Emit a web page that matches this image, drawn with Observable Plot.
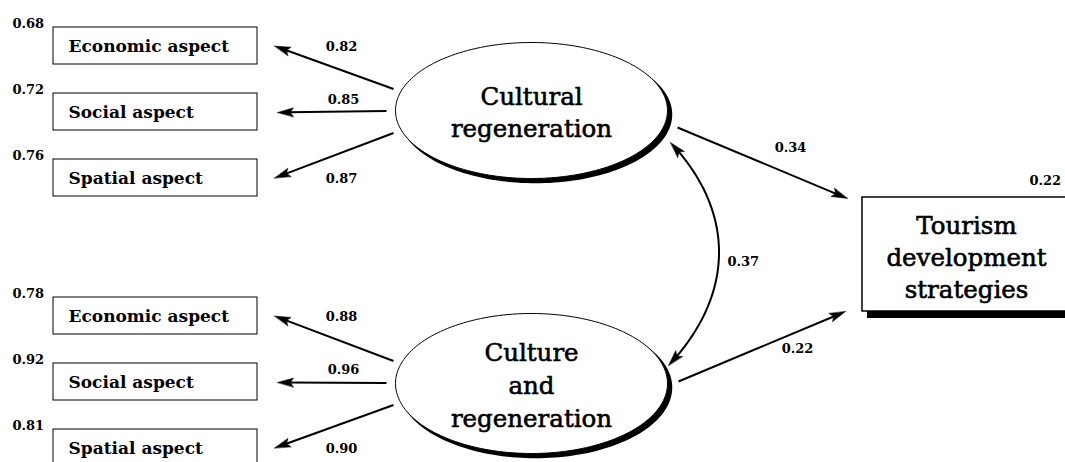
<!DOCTYPE html>
<html><head><meta charset="utf-8">
<script src="https://cdn.jsdelivr.net/npm/d3@7"></script>
<script src="https://cdn.jsdelivr.net/npm/@observablehq/plot@0.6"></script>
<style>body{margin:0;background:#fff}</style>
</head><body><div id="chart"></div>
<script>
// ---------- DATA ----------
const latentNames = ["Cultural\nregeneration", "Culture\nand\nregeneration"];
const indicatorNames = ["Economic aspect", "Social aspect", "Spatial aspect"];
const loadingsCultural = [0.82, 0.85, 0.87];
const errorsCultural = [0.68, 0.72, 0.76];
const loadingsCultureAnd = [0.88, 0.96, 0.90];
const errorsCultureAnd = [0.78, 0.92, 0.81];
const outcomeName = "Tourism\ndevelopment\nstrategies";
const pathCoefs = [0.34, 0.22];
const covariance = 0.37;
const outcomeR2 = 0.22;

// ---------- LAYOUT ----------
const W = 1065, H = 462;
const serif = "'DejaVu Serif', 'Liberation Serif', serif";
const fmt = d3.format(".2f");
const boxX1 = 53, boxX2 = 257, boxH = 37, boxStep = 66;
const groupTops = [27, 297];
const ellipses = [
  {cx: 531, cy: 110, rx: 136, ry: 68, label: latentNames[0]},
  {cx: 531, cy: 383, rx: 136, ry: 70, label: latentNames[1]}
];
const loadings = [loadingsCultural, loadingsCultureAnd];
const errors = [errorsCultural, errorsCultureAnd];
const outBox = {x1: 862, x2: 1070, y1: 197, y2: 311};

const boxes = [], errLabels = [], loadLabels = [], shafts = [], heads = [];
function addArrow(id, sx, sy, tx, ty, len = 16, hw = 4.5, shaft = true) {
  const dx = tx - sx, dy = ty - sy, L = Math.hypot(dx, dy);
  const ux = dx / L, uy = dy / L, px = -uy, py = ux;
  const bx = tx - ux * len, by = ty - uy * len;
  if (shaft) shafts.push({x1: sx, y1: sy, x2: tx - ux * len * 0.6, y2: ty - uy * len * 0.6});
  heads.push({id, x: tx, y: ty}, {id, x: bx + px * hw, y: by + py * hw},
             {id, x: tx - ux * len * 0.8, y: ty - uy * len * 0.8},
             {id, x: bx - px * hw, y: by - py * hw});
}
groupTops.forEach((top, g) => {
  const e = ellipses[g];
  indicatorNames.forEach((name, i) => {
    const y1 = top + i * boxStep, cy = y1 + boxH / 2;
    boxes.push({x1: boxX1, x2: boxX2, y1, y2: y1 + boxH, name, cy});
    errLabels.push({x: 12, y: cy - 22.5, t: fmt(errors[g][i])});
    const mid = i === 1;
    loadLabels.push({x: mid ? 343 : 341, y: mid ? cy - 12 : cy + 0.5, t: fmt(loadings[g][i])});
    const sy = e.cy + (cy - e.cy) / 3;
    addArrow(`l${g}${i}`, mid ? 386 : 393, sy, mid ? 277 : 274, cy + (mid ? 0.5 : 0));
  });
});
// structural paths
addArrow("p0", 677, 127, 847, 198);
addArrow("p1", 678, 381, 845, 311);
const pathLabels = [
  {x: 790, y: 147, t: fmt(pathCoefs[0])},
  {x: 797, y: 348, t: fmt(pathCoefs[1])}
];
// covariance curve (cubic bezier)
const P0 = [670, 142], C1 = [736, 212], C2 = [734, 295], P3 = [668, 365];
const curve = d3.range(0, 1.0001, 0.01).map(t => {
  const a = (1 - t) ** 3, b = 3 * (1 - t) ** 2 * t, c = 3 * (1 - t) * t * t, d = t ** 3;
  return {x: a * P0[0] + b * C1[0] + c * C2[0] + d * P3[0], y: a * P0[1] + b * C1[1] + c * C2[1] + d * P3[1]};
});
const nC = curve.length;
addArrow("c0", curve[5].x, curve[5].y, P0[0], P0[1], 16, 4.5, false);
addArrow("c1", curve[nC - 6].x, curve[nC - 6].y, P3[0], P3[1], 16, 4.5, false);
const curveTrim = curve.slice(4, nC - 4);

// ellipse outlines
const ellPts = [], shadowPts = [];
ellipses.forEach((e, k) => {
  d3.range(0, 2 * Math.PI, Math.PI / 90).forEach(a => {
    ellPts.push({id: k, x: e.cx + e.rx * Math.cos(a), y: e.cy + e.ry * Math.sin(a)});
    shadowPts.push({id: k, x: e.cx + 4 + e.rx * Math.cos(a), y: e.cy + 4 + e.ry * Math.sin(a)});
  });
});

const bigText = {fontSize: 24.5, fontFamily: serif, fill: "black", stroke: "black", strokeWidth: 0.6};
const numText = {fontSize: 13, fontWeight: "bold", fontFamily: serif, fill: "black"};

const chart = Plot.plot({
  width: W, height: H, margin: 0,
  x: {domain: [0, W], range: [0, W], axis: null},
  y: {domain: [0, H], range: [0, H], axis: null},
  style: {background: "white"},
  marks: [
    // ellipses
    Plot.line(shadowPts, {x: "x", y: "y", z: "id", fill: "black", stroke: "black", curve: "linear-closed"}),
    Plot.line(ellPts, {x: "x", y: "y", z: "id", fill: "white", stroke: "black", strokeWidth: 1, curve: "linear-closed"}),
    Plot.text(ellipses, {x: "cx", y: "cy", text: "label", lineHeight: 1.34, ...bigText}),
    // indicator boxes
    Plot.rect(boxes, {x1: "x1", x2: "x2", y1: "y1", y2: "y2", fill: "white", stroke: "black", strokeWidth: 1}),
    Plot.text(boxes, {x: 68, y: d => d.cy + 1, text: "name", textAnchor: "start", fontSize: 17, fontWeight: "bold", fontFamily: serif, fill: "black"}),
    // outcome box
    Plot.rect([outBox], {x1: d => d.x1 + 5, x2: d => d.x2 + 5, y1: d => d.y1 + 7, y2: d => d.y2 + 7, fill: "black"}),
    Plot.rect([outBox], {x1: "x1", x2: "x2", y1: "y1", y2: "y2", fill: "white", stroke: "black", strokeWidth: 1.5}),
    Plot.text([outBox], {x: 966, y: d => (d.y1 + d.y2) / 2 + 1, text: () => outcomeName, lineHeight: 1.3, ...bigText}),
    // arrows
    Plot.link(shafts, {x1: "x1", y1: "y1", x2: "x2", y2: "y2", stroke: "black", strokeWidth: 2}),
    Plot.line(curveTrim, {x: "x", y: "y", stroke: "black", strokeWidth: 2}),
    Plot.line(heads, {x: "x", y: "y", z: "id", fill: "black", stroke: "black", strokeWidth: 0.5, curve: "linear-closed"}),
    // numeric labels
    Plot.text(errLabels, {x: "x", y: "y", text: "t", textAnchor: "start", ...numText}),
    Plot.text(loadLabels, {x: "x", y: "y", text: "t", ...numText}),
    Plot.text(pathLabels, {x: "x", y: "y", text: "t", ...numText}),
    Plot.text([covariance], {x: 727, y: 261, text: d => fmt(d), textAnchor: "start", ...numText}),
    Plot.text([outcomeR2], {x: 1029, y: 180, text: d => fmt(d), textAnchor: "start", ...numText})
  ]
});
document.getElementById("chart").appendChild(chart);
</script>
</body></html>
